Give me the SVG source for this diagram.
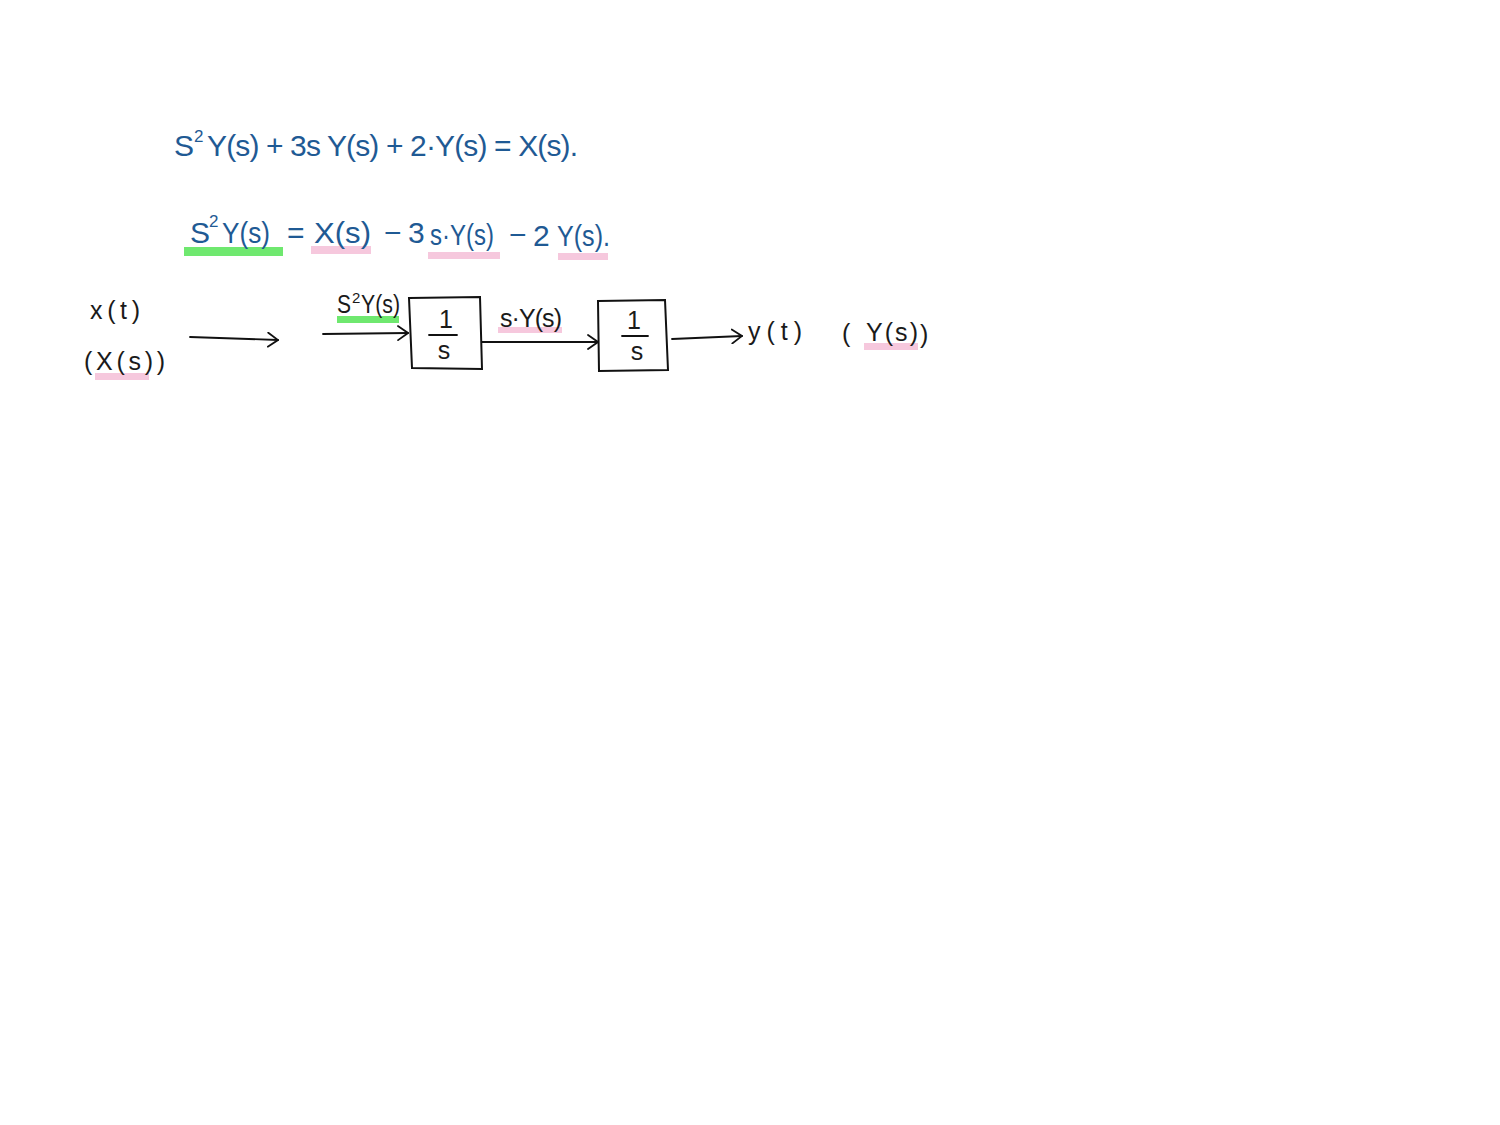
<svg xmlns="http://www.w3.org/2000/svg" width="1500" height="1125" viewBox="0 0 1500 1125">
<style>
.eq{font-family:"Liberation Sans",Arial,sans-serif;fill:#1f5a94;font-size:30px}
.sup{font-family:"Liberation Sans",Arial,sans-serif;fill:#1f5a94;font-size:17px}
.hw{font-family:"Liberation Sans",Arial,sans-serif;fill:#1a1a1a;font-size:25px}
.hws{font-family:"Liberation Sans",Arial,sans-serif;fill:#1a1a1a;font-size:15px}
.box{fill:none;stroke:#111;stroke-width:2}
.ln{fill:none;stroke:#111;stroke-width:1.8;stroke-linecap:round}
.g{fill:#6fe86f}
.p{fill:#f6c8dd}
</style>
<defs>
<marker id="ah" viewBox="0 0 12 16" refX="11" refY="8" markerWidth="12" markerHeight="16" markerUnits="userSpaceOnUse" orient="auto">
<path d="M1,1 L11,8 L1,15" fill="none" stroke="#111" stroke-width="1.8" stroke-linecap="round"/>
</marker>
</defs>
<rect width="1500" height="1125" fill="#fff"/>

<g id="equation1">
<text class="eq" x="174" y="156">S</text>
<text class="sup" x="194" y="142">2</text>
<text class="eq" x="207" y="156" textLength="371" lengthAdjust="spacing">Y(s) + 3s Y(s) + 2·Y(s) = X(s).</text>
</g>

<g id="equation2">
<rect class="g" x="184" y="247" width="99" height="9"/>
<rect class="p" x="311" y="246" width="60" height="8"/>
<rect class="p" x="428" y="252" width="72" height="7"/>
<rect class="p" x="558" y="253" width="50" height="7"/>
<text class="eq" x="190" y="243">S</text>
<text class="sup" x="209" y="227">2</text>
<text class="eq" x="222" y="243" textLength="48" lengthAdjust="spacingAndGlyphs">Y(s)</text>
<text class="eq" x="287" y="243">=</text>
<text class="eq" x="314" y="243" textLength="57" lengthAdjust="spacingAndGlyphs">X(s)</text>
<text class="eq" x="384" y="243">−</text>
<text class="eq" x="408" y="243">3</text>
<text class="eq" x="430" y="245" textLength="64" lengthAdjust="spacingAndGlyphs">s·Y(s)</text>
<text class="eq" x="509" y="245">−</text>
<text class="eq" x="533" y="246">2</text>
<text class="eq" x="557" y="246" textLength="53" lengthAdjust="spacingAndGlyphs">Y(s).</text>
</g>

<g id="input">
<text class="hw" x="90" y="319" textLength="50" lengthAdjust="spacing">x(t)</text>
<rect class="p" x="95" y="373" width="54" height="7"/>
<text class="hw" x="84" y="370" textLength="81" lengthAdjust="spacing">(X(s))</text>
</g>

<g id="connectors">
<path class="ln" d="M190,337 L278,340" marker-end="url(#ah)"/>
<path class="ln" d="M323,334 L408,333" marker-end="url(#ah)"/>
<path class="ln" d="M482,342 L598,342" marker-end="url(#ah)"/>
<path class="ln" d="M672,339 L742,336" marker-end="url(#ah)"/>
</g>

<g id="label-s2Y">
<rect class="g" x="337" y="316" width="62" height="7"/>
<text class="hw" x="337" y="313" font-size="20" textLength="14" lengthAdjust="spacingAndGlyphs">S</text>
<text class="hws" x="352" y="303" font-size="12">2</text>
<text class="hw" x="361" y="313" font-size="20" textLength="39" lengthAdjust="spacingAndGlyphs">Y(s)</text>
</g>

<g id="integrator1">
<path class="box" d="M409,298 L480,297 L482,369 L412,368 Z"/>
<text class="hw" x="446" y="328" text-anchor="middle" font-size="22">1</text>
<path class="ln" d="M429,335 L457,335"/>
<text class="hw" x="444" y="359" text-anchor="middle" font-size="22">s</text>
</g>

<g id="label-sY">
<rect class="p" x="498" y="327" width="64" height="6"/>
<text class="hw" x="500" y="327" font-size="22" textLength="62" lengthAdjust="spacing">s·Y(s)</text>
</g>

<g id="integrator2">
<path class="box" d="M598,301 L665,300 L668,370 L599,371 Z"/>
<text class="hw" x="634" y="329" text-anchor="middle" font-size="22">1</text>
<path class="ln" d="M622,336 L648,336"/>
<text class="hw" x="637" y="360" text-anchor="middle" font-size="22">s</text>
</g>

<g id="output">
<text class="hw" x="748" y="340" textLength="54" lengthAdjust="spacing">y(t)</text>
<rect class="p" x="864" y="343" width="54" height="7"/>
<text class="hw" x="842" y="342" font-size="30">(</text>
<text class="hw" x="866" y="341" textLength="52" lengthAdjust="spacing">Y(s)</text>
<text class="hw" x="920" y="343" font-size="32">)</text>
</g>
</svg>
